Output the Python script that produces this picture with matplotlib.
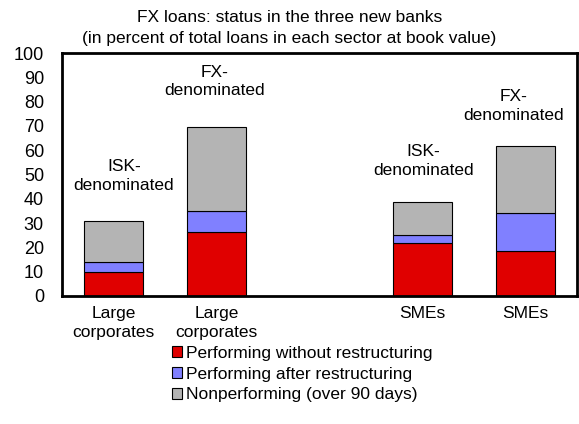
import matplotlib
matplotlib.use('Agg')
import matplotlib.pyplot as plt
from matplotlib.patches import Patch

plt.rcParams['font.family'] = ['Liberation Sans', 'DejaVu Sans']

# data (percent of total loans)
positions = [0, 1, 3, 4]
tick_labels = ['Large\ncorporates', 'Large\ncorporates', 'SMEs', 'SMEs']
performing = [10.0, 26.2, 21.7, 18.5]
restructured = [4.0, 8.8, 3.4, 15.7]
nonperforming = [17.0, 34.7, 13.7, 27.5]
series_names = ['Performing without restructuring',
                'Performing after restructuring',
                'Nonperforming (over 90 days)']
notes = ['ISK-\ndenominated', 'FX-\ndenominated', 'ISK-\ndenominated', 'FX-\ndenominated']
note_x = [0.10, 0.985, 3.01, 3.88]
note_y = [49.4, 88.3, 55.6, 78.1]

colors = ['#e00000', '#8080ff', '#b4b4b4']
fs = 12.5

fig = plt.figure(figsize=(5.79, 4.24), dpi=100)
ax = fig.add_axes([62/579, 1-296/424, 515/579, 243/424])

bottom2 = [a + b for a, b in zip(performing, restructured)]
w = 0.57
ax.bar(positions, performing, width=w, color=colors[0], edgecolor='black', linewidth=0.8)
ax.bar(positions, restructured, width=w, bottom=performing, color=colors[1], edgecolor='black', linewidth=0.8)
ax.bar(positions, nonperforming, width=w, bottom=bottom2, color=colors[2], edgecolor='black', linewidth=0.8)

for x, y, t in zip(note_x, note_y, notes):
    ax.text(x, y, t, ha='center', va='center', fontsize=fs, linespacing=1.3)

ax.set_xlim(-0.5, 4.5)
ax.set_ylim(0, 100)
ax.set_yticks(range(0, 101, 10))
ax.set_xticks(positions)
ax.set_xticklabels(tick_labels, fontsize=fs, linespacing=1.35)
ax.tick_params(axis='y', length=0, pad=13, labelsize=fs + 0.5)
ax.tick_params(axis='x', length=0, pad=7)
for s in ax.spines.values():
    s.set_linewidth(2)

fig.text(0.5, 1-17/424, 'FX loans: status in the three new banks', ha='center', va='center', fontsize=fs)
fig.text(0.5, 1-38/424, '(in percent of total loans in each sector at book value)', ha='center', va='center', fontsize=fs)

handles = [Patch(facecolor=c, edgecolor='black', linewidth=0.8) for c in colors]
fig.legend(handles, series_names, loc='upper left', bbox_to_anchor=(172/579, 1-346/424),
           frameon=False, fontsize=fs, handlelength=0.6, handleheight=0.6,
           handletextpad=0.2, labelspacing=0.33, borderpad=0, borderaxespad=0)

fig.savefig('out.png', dpi=100)
